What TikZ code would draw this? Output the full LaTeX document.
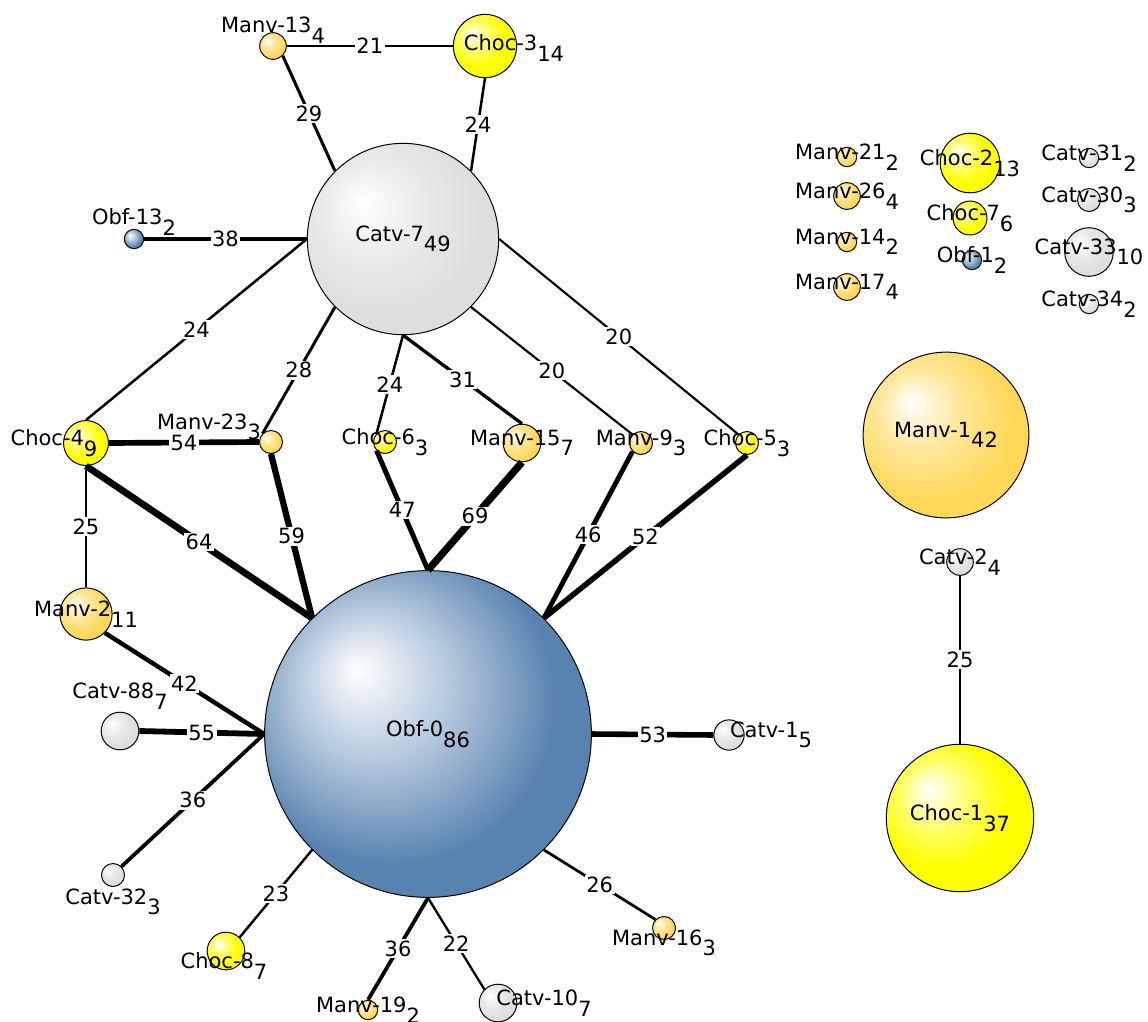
\documentclass[tikz,border=0pt]{standalone}
\usepackage{fontspec}
\setmainfont{DejaVu Sans}
\usepackage{tikz}

\definecolor{obfblue}{RGB}{88,131,176}
\definecolor{catvgray}{RGB}{222,222,222}
\definecolor{chocyellow}{RGB}{255,255,0}
\definecolor{manvgold}{RGB}{255,216,90}

% Ball shadings, highlight up left
\pgfdeclareradialshading{obfball}{\pgfpoint{-11bp}{10bp}}{color(0bp)=(white); color(12bp)=(obfblue!45!white); color(25bp)=(obfblue); color(50bp)=(obfblue)}
\pgfdeclareradialshading{catvball}{\pgfpoint{-11bp}{10bp}}{color(0bp)=(white); color(12bp)=(catvgray!60!white); color(25bp)=(catvgray); color(50bp)=(catvgray)}
\pgfdeclareradialshading{chocball}{\pgfpoint{-11bp}{10bp}}{color(0bp)=(white); color(12bp)=(chocyellow!60!white); color(22bp)=(chocyellow); color(50bp)=(chocyellow)}
\pgfdeclareradialshading{manvball}{\pgfpoint{-11bp}{10bp}}{color(0bp)=(white); color(12bp)=(manvgold!60!white); color(25bp)=(manvgold); color(50bp)=(manvgold)}

% name with its count below the line
\newcommand{\hcount}[2]{#1\raisebox{-0.5em}{#2}}

\begin{document}
\begin{tikzpicture}[x=1pt, y=-1pt,
    hap/.style={circle, draw, line width=1pt, inner sep=0pt, minimum size={2*(6+1.83*#1)}},
    obf/.style={hap=#1, shading=obfball},
    catv/.style={hap=#1, shading=catvball},
    choc/.style={hap=#1, shading=chocball},
    manv/.style={hap=#1, shading=manvball},
    txt/.style={font=\fontsize{21}{23}\selectfont, inner sep=0pt},
    elab/.style={txt, fill=white, inner sep=1.5pt}]
    \useasboundingbox (0,0) rectangle (1148,1021);

    % Main network
    \node[obf=86] (obf0) at (428,734) {};
    \node[catv=49] (catv7) at (403,239) {};
    \node[manv=4] (manv13) at (273,46) {};
    \node[choc=14] (choc3) at (485,46) {};
    \node[obf=2] (obf13) at (134,239) {};
    \node[choc=9] (choc4) at (86,443) {};
    \node[manv=3] (manv23) at (271,442) {};
    \node[choc=3] (choc6) at (385,442) {};
    \node[manv=7] (manv15) at (522,443) {};
    \node[manv=3] (manv9) at (641,443) {};
    \node[choc=3] (choc5) at (747,443) {};
    \node[manv=11] (manv2) at (86,614) {};
    \node[catv=7] (catv88) at (120,731) {};
    \node[catv=3] (catv32) at (113,875) {};
    \node[choc=7] (choc8) at (226,951) {};
    \node[manv=2] (manv19) at (368,1010) {};
    \node[catv=7] (catv10) at (498,1003) {};
    \node[manv=3] (manv16) at (664,928) {};
    \node[catv=5] (catv1) at (729,735) {};

    % Second network
    \node[manv=42] (manv1) at (946,435) {};
    \node[catv=4] (catv2) at (960,562) {};
    \node[choc=37] (choc1) at (960,818) {};

    % Single haplotypes
    \node[manv=2] (manv21) at (847,157) {};
    \node[manv=4] (manv26) at (847,196) {};
    \node[manv=2] (manv14) at (847,242) {};
    \node[manv=4] (manv17) at (847,287) {};
    \node[choc=13] (choc2) at (970,163) {};
    \node[choc=6] (choc7) at (970,218) {};
    \node[obf=2] (obf1) at (972,260) {};
    \node[catv=2] (catv31) at (1089,158) {};
    \node[catv=3] (catv30) at (1089,200) {};
    \node[catv=10] (catv33) at (1089,252) {};
    \node[catv=2] (catv34) at (1089,304) {};

    % Links, width and label from the number of steps
    \foreach \a/\b/\w in {manv13.east/choc3.west/21, catv7.north west/manv13.south east/29,
        catv7.north east/choc3.south/24, obf13.east/catv7.west/38, catv7.west/choc4.north/24,
        catv7.south west/manv23.north west/28, catv7.south/choc6.north west/24,
        catv7.south/manv15.north/31, catv7.south east/manv9.north west/20,
        catv7.east/choc5.north west/20, choc4.east/manv23.west/54, choc4.south/manv2.north/25,
        choc4.south/obf0.north west/64, manv23.south/obf0.north west/59,
        choc6.south west/obf0.north/47, manv15.south/obf0.north/69,
        manv9.south west/obf0.north east/46, choc5.south/obf0.north east/52,
        manv2.south east/obf0.west/42, catv88.east/obf0.west/55, catv32.north east/obf0.west/36,
        choc8.north east/obf0.south west/23, manv19.north/obf0.south/36,
        catv10.north west/obf0.south/22, manv16.north west/obf0.south east/26,
        catv1.west/obf0.east/53, catv2.south/choc1.north/25}
        \draw[line width=\w/9.5] (\a) -- node[elab] {\w} (\b);

    % Names
    \node[txt] (obf0-t) at (obf0) {\hcount{Obf-0}{86}};
    \node[txt] (catv7-t) at (catv7) {\hcount{Catv-7}{49}};
    \node[txt] (manv13-t) at ([shift={(0,-16)}]manv13) {\hcount{Manv-13}{4}};
    \node[txt] (choc3-t) at ([shift={(29,2)}]choc3) {\hcount{Choc-3}{14}};
    \node[txt] (obf13-t) at ([shift={(0,-17)}]obf13) {\hcount{Obf-13}{2}};
    \node[txt] (choc4-t) at ([shift={(-32,0)}]choc4) {\hcount{Choc-4}{9}};
    \node[txt] (manv23-t) at ([shift={(-62,-15)}]manv23) {\hcount{Manv-23}{3}};
    \node[txt] (choc6-t) at (choc6) {\hcount{Choc-6}{3}};
    \node[txt] (manv15-t) at (manv15) {\hcount{Manv-15}{7}};
    \node[txt] (manv9-t) at (manv9) {\hcount{Manv-9}{3}};
    \node[txt] (choc5-t) at (choc5) {\hcount{Choc-5}{3}};
    \node[txt] (manv2-t) at (manv2) {\hcount{Manv-2}{11}};
    \node[txt] (catv88-t) at ([shift={(0,-35)}]catv88) {\hcount{Catv-88}{7}};
    \node[txt] (catv32-t) at ([shift={(0,27)}]catv32) {\hcount{Catv-32}{3}};
    \node[txt] (choc8-t) at ([shift={(-2,15)}]choc8) {\hcount{Choc-8}{7}};
    \node[txt] (manv19-t) at (manv19) {\hcount{Manv-19}{2}};
    \node[txt] (catv10-t) at ([shift={(46,0)}]catv10) {\hcount{Catv-10}{7}};
    \node[txt] (manv16-t) at ([shift={(0,15)}]manv16) {\hcount{Manv-16}{3}};
    \node[txt] (catv1-t) at ([shift={(42,0)}]catv1) {\hcount{Catv-1}{5}};
    \node[txt] (manv1-t) at (manv1) {\hcount{Manv-1}{42}};
    \node[txt] (catv2-t) at (catv2) {\hcount{Catv-2}{4}};
    \node[txt] (choc1-t) at (choc1) {\hcount{Choc-1}{37}};
    \node[txt] (manv21-t) at (manv21) {\hcount{Manv-21}{2}};
    \node[txt] (manv26-t) at (manv26) {\hcount{Manv-26}{4}};
    \node[txt] (manv14-t) at (manv14) {\hcount{Manv-14}{2}};
    \node[txt] (manv17-t) at (manv17) {\hcount{Manv-17}{4}};
    \node[txt] (choc2-t) at (choc2) {\hcount{Choc-2}{13}};
    \node[txt] (choc7-t) at (choc7) {\hcount{Choc-7}{6}};
    \node[txt] (obf1-t) at (obf1) {\hcount{Obf-1}{2}};
    \node[txt] (catv31-t) at (catv31) {\hcount{Catv-31}{2}};
    \node[txt] (catv30-t) at (catv30) {\hcount{Catv-30}{3}};
    \node[txt] (catv33-t) at (catv33) {\hcount{Catv-33}{10}};
    \node[txt] (catv34-t) at (catv34) {\hcount{Catv-34}{2}};
\end{tikzpicture}
\end{document}
